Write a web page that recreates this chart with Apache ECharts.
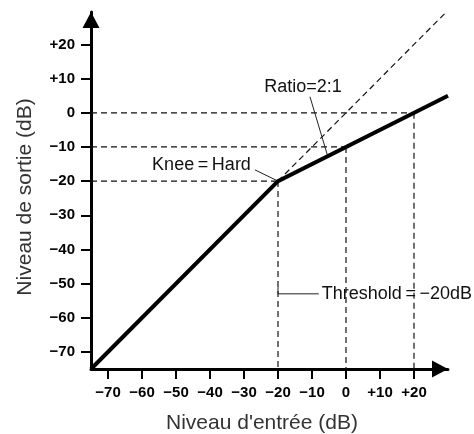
<!DOCTYPE html>
<html>
<head>
<meta charset="utf-8">
<style>
  html, body { margin: 0; padding: 0; background: #ffffff; }
  #chart { width: 474px; height: 434px; }
</style>
<script src="https://cdn.jsdelivr.net/npm/echarts@6/dist/echarts.min.js"></script>
</head>
<body>
<div id="chart"></div>
<script>
// Compressor transfer curve: hard knee at -20 dB, ratio 2:1
const inputLevels  = [-75, -20, 30];   // dB in
const outputLevels = [-75, -20, 5];    // dB out

// Unity-gain reference (dashed diagonal above the knee)
const unityIn  = [-20, 29.5];
const unityOut = [-20, 29.5];

// Guide points: input level and resulting output level
const guideIn  = [-20, 0, 20];
const guideOut = [-20, -10, 0];

const tickValues = [-70, -60, -50, -40, -30, -20, -10, 0, 10, 20];
const xTickLabels = ['\u221270', '\u221260', '\u221250', '\u221240', '\u221230', '\u221220', '\u221210', '0', '+10', '+20'];
const yTickLabels = ['\u221270', '\u221260', '\u221250', '\u221240', '\u221230', '\u221220', '\u221210', '0', '+10', '+20'];

const axisMin = -75;

// Leader lines for the annotations (dB coordinates)
const ratioLeaderIn   = [-10.6, -5.5];
const ratioLeaderOut  = [4.7, -12.3];
const kneeLeaderIn    = [-26.8, -20];
const kneeLeaderOut   = [-16.7, -20];
const threshLeaderIn  = [-20, -20, -8];
const threshLeaderOut = [-51, -53, -53];

const zip = (xs, ys) => xs.map((x, i) => [x, ys[i]]);

const FONT = '"Liberation Sans", Arial, Helvetica, sans-serif';

const dashStyle = { color: '#111', width: 1.2, type: [6, 4] };
const leaderStyle = { color: '#222', width: 1 };

function lineSeries(points, style, z) {
  return {
    type: 'line',
    data: points,
    symbol: 'none',
    silent: true,
    animation: false,
    lineStyle: style,
    z: z
  };
}

const series = [];
// dashed guides: horizontal to the y axis and vertical down to the x axis
guideIn.forEach((x, i) => {
  const y = guideOut[i];
  series.push(lineSeries([[axisMin, y], [x, y]], dashStyle, 2));
  series.push(lineSeries([[x, y], [x, axisMin]], dashStyle, 2));
});
series.push(lineSeries(zip(unityIn, unityOut), dashStyle, 2));
series.push(lineSeries(zip(ratioLeaderIn, ratioLeaderOut), leaderStyle, 3));
series.push(lineSeries(zip(kneeLeaderIn, kneeLeaderOut), leaderStyle, 3));
series.push(lineSeries(zip(threshLeaderIn, threshLeaderOut), leaderStyle, 3));
// transfer curve
series.push(lineSeries(zip(inputLevels, outputLevels), { color: '#000', width: 4, cap: 'butt', join: 'miter' }, 5));

function axisCommon(labels, isX) {
  return {
    type: 'value',
    min: axisMin,
    max: isX ? 30 : 29.5,
    splitLine: { show: false },
    axisLine: {
      show: true,
      onZero: false,
      lineStyle: { color: '#000', width: 3 },
      symbol: ['none', 'triangle'],
      symbolSize: [17, 16],
      symbolOffset: [0, -8]
    },
    axisTick: {
      show: true,
      customValues: tickValues,
      length: 10,
      lineStyle: { color: '#000', width: 2 }
    },
    axisLabel: {
      show: true,
      customValues: tickValues,
      margin: isX ? 16 : 16,
      color: '#000',
      fontFamily: FONT,
      fontWeight: 'bold',
      fontSize: 15,
      formatter: (v) => labels[tickValues.indexOf(v)]
    }
  };
}

const chart = echarts.init(document.getElementById('chart'), null, { renderer: 'canvas' });
chart.setOption({
  animation: false,
  backgroundColor: '#ffffff',
  grid: { left: 91, right: 26, top: 12, bottom: 65, containLabel: false },
  xAxis: axisCommon(xTickLabels, true),
  yAxis: axisCommon(yTickLabels, false),
  series: series
});

// Annotation texts anchored to the leader lines
const px = (x, y) => chart.convertToPixel({ gridIndex: 0 }, [x, y]);
const ratioTop = px(ratioLeaderIn[0], ratioLeaderOut[0]);
const kneeStart = px(kneeLeaderIn[0], kneeLeaderOut[0]);
const threshEnd = px(threshLeaderIn[2], threshLeaderOut[2]);
const annStyle = { fontFamily: FONT, fontSize: 18, fill: '#111' };

chart.setOption({
  graphic: [
    { type: 'text', x: ratioTop[0] - 7, y: ratioTop[1] - 10,
      style: Object.assign({ text: 'Ratio=2:1', align: 'center', verticalAlign: 'middle' }, annStyle) },
    { type: 'text', x: kneeStart[0] - 4, y: kneeStart[1] - 5,
      style: Object.assign({ text: 'Knee\u2009=\u2009Hard', align: 'right', verticalAlign: 'middle' }, annStyle) },
    { type: 'text', x: threshEnd[0] + 3, y: threshEnd[1],
      style: Object.assign({ text: 'Threshold\u2009=\u2009\u221220dB', align: 'left', verticalAlign: 'middle' }, annStyle) },
    { type: 'text', x: 262, y: 423,
      style: { text: "Niveau d'entrée (dB)", align: 'center', verticalAlign: 'middle', fontFamily: FONT, fontSize: 21, fill: '#333' } },
    { type: 'text', x: 25, y: 197, rotation: Math.PI / 2,
      style: { text: 'Niveau de sortie (dB)', align: 'center', verticalAlign: 'middle', fontFamily: FONT, fontSize: 21, fill: '#333' } }
  ]
});
</script>
</body>
</html>
